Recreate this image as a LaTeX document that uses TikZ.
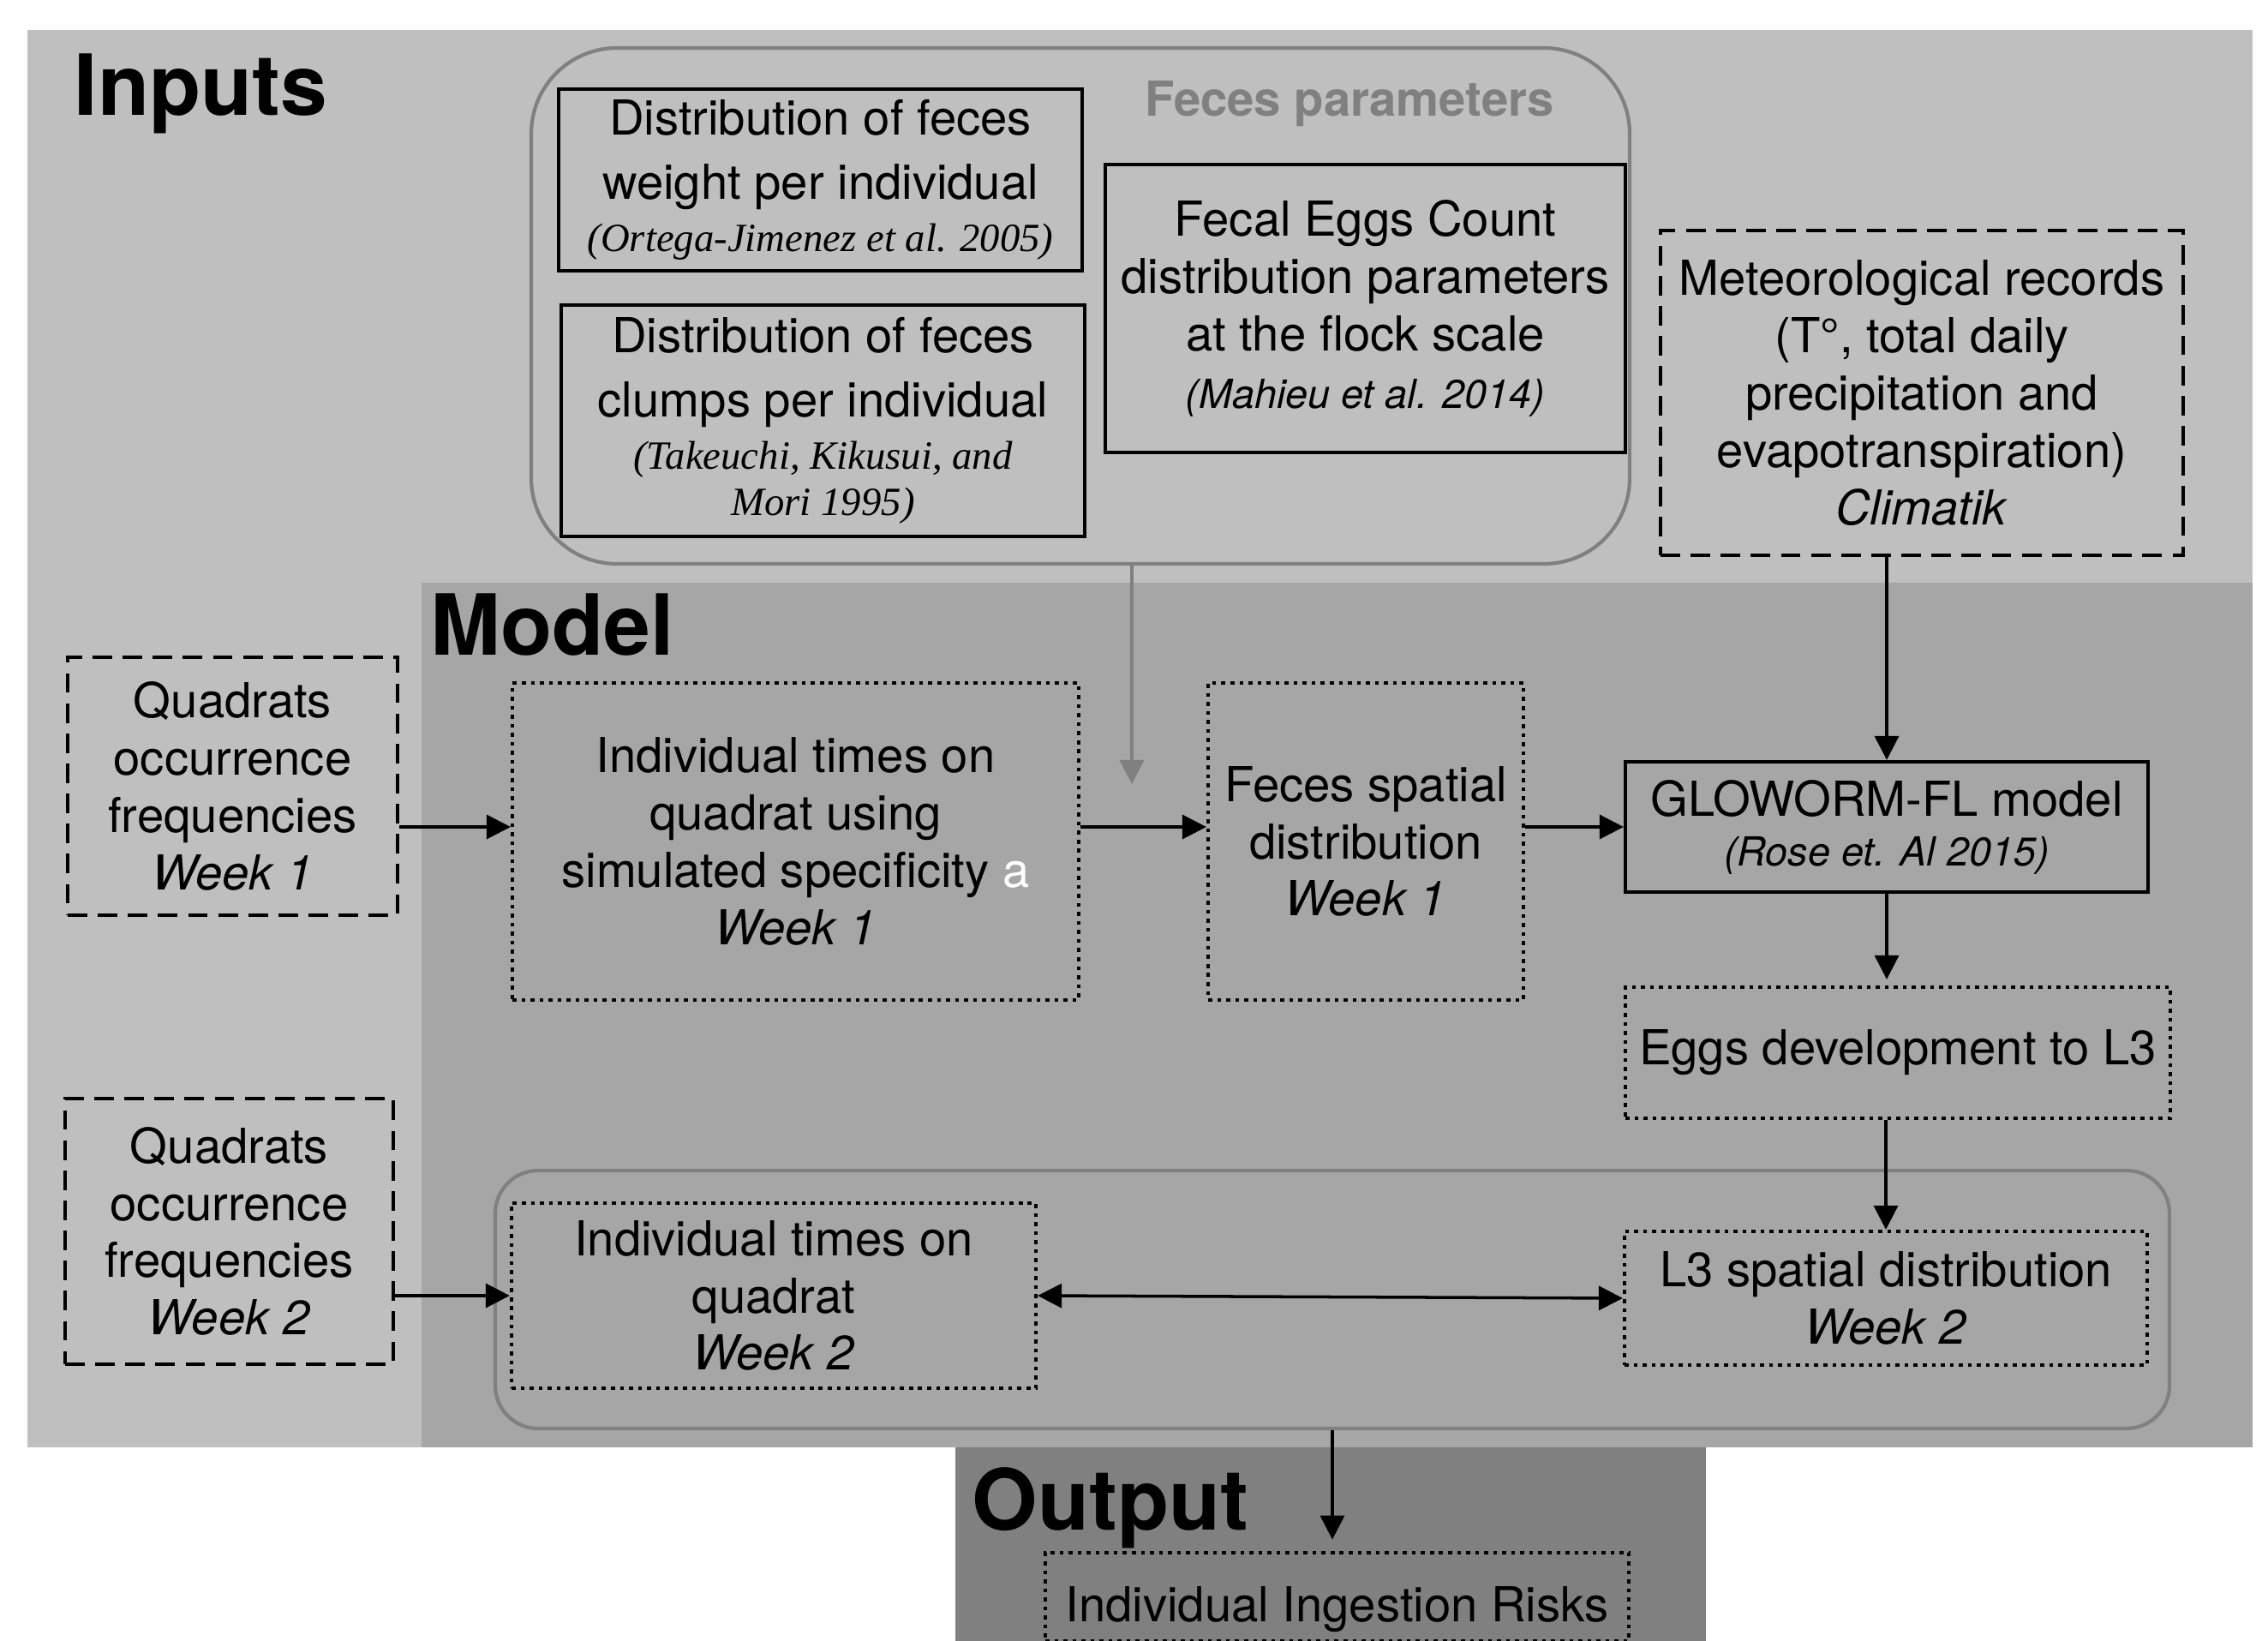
\documentclass[tikz,border=0pt]{standalone}
\usepackage{fontspec}
\setmainfont{TeX Gyre Heros}
\newfontfamily\citeserif{Liberation Serif}
\usetikzlibrary{arrows.meta, positioning}
\def\boxfont{\fontsize{16}{19}\selectfont}
\def\citefont{\fontsize{13.3}{15.5}\selectfont}
\def\headfont{\fontsize{28}{32}\selectfont\bfseries}

\begin{document}
\begin{tikzpicture}[>={Triangle[length=0.28cm,width=0.28cm]}]
    \tikzstyle{solidbox}=[draw=black, line width=1.2pt, align=center, inner sep=2pt, font=\boxfont]
    \tikzstyle{dashbox}=[solidbox, dash pattern=on 6.5pt off 3.5pt]
    \tikzstyle{dotbox}=[solidbox, dash pattern=on 1.3pt off 1.7pt]
    \tikzstyle{group}=[draw=black!50, line width=1.2pt]
    \tikzstyle{heading}=[font=\headfont, anchor=base west, inner sep=0pt]
    \tikzstyle{link}=[->, line width=1pt]

    \useasboundingbox (0,0) rectangle (26.47,-19.15);

    % Draw the three background areas
    \fill[black!25] (0.32,-0.35) rectangle (26.29,-16.89);
    \fill[black!35] (4.92,-6.80) rectangle (26.29,-16.89);
    \fill[black!50] (11.15,-16.89) rectangle (19.91,-19.15);

    \node[heading] (inputs) at (0.86,-1.35) {Inputs};
    \node[heading] (model) at (5.02,-7.65) {Model};
    \node[heading] (output) at (11.34,-17.85) {Output};

    % Groups
    \node[group, rounded corners=1cm, minimum width=12.82cm, minimum height=6.02cm] (fecespar) at (12.61,-3.57) {};
    \node[font=\boxfont\bfseries, text=black!50, anchor=base, inner sep=0pt] (fecespar-title) at (15.75,-1.36) {Feces parameters};
    \node[group, rounded corners=0.5cm, minimum width=19.54cm, minimum height=3.01cm] (week2) at (15.55,-15.165) {};

    % Draw the input nodes
    \node[solidbox, minimum width=6.11cm, minimum height=2.12cm] (in-weight) at (9.575,-2.10)
        {Distribution of feces\\[2.3pt] weight per individual\\[-1.5pt] {\citeserif\citefont\itshape (Ortega-Jimenez et al. 2005)}};
    \node[solidbox, minimum width=6.11cm, minimum height=2.70cm] (in-clumps) at (9.605,-4.91)
        {Distribution of feces\\[2.3pt] clumps per individual\\[-1.8pt] {\citeserif\citefont\itshape (Takeuchi, Kikusui, and}\\[-3.5pt] {\citeserif\citefont\itshape Mori 1995)}};
    \node[solidbox, minimum width=6.07cm, minimum height=3.36cm] (in-fec) at (15.935,-3.60)
        {Fecal Eggs Count\\ distribution parameters\\ at the flock scale\\ {\citefont\itshape (Mahieu et al. 2014)}};
    \node[dashbox, minimum width=6.10cm, minimum height=3.79cm] (in-meteo) at (22.43,-4.585)
        {Meteorological records\\ (T°, total daily\\ precipitation and\\ evapotranspiration)\\ \textit{Climatik}};
    \node[dashbox, minimum width=3.85cm, minimum height=3.01cm] (in-quad1) at (2.715,-9.175)
        {Quadrats\\ occurrence\\ frequencies\\ \textit{Week 1}};
    \node[dashbox, minimum width=3.83cm, minimum height=3.10cm] (in-quad2) at (2.675,-14.37)
        {Quadrats\\ occurrence\\ frequencies\\ \textit{Week 2}};

    % Draw the model nodes
    \node[dotbox, minimum width=6.61cm, minimum height=3.70cm] (m-ind1) at (9.285,-9.82)
        {Individual times on\\ quadrat using\\ simulated specificity {\color{white}a}\\ \textit{Week 1}};
    \node[dotbox, minimum width=3.68cm, minimum height=3.70cm] (m-feces) at (15.94,-9.82)
        {Feces spatial\\ distribution\\ \textit{Week 1}};
    \node[solidbox, minimum width=6.10cm, minimum height=1.52cm] (m-glow) at (22.02,-9.65)
        {GLOWORM-FL model\\[-2.5pt] {\citefont\itshape (Rose et. Al 2015)}};
    \node[dotbox, minimum width=6.36cm, minimum height=1.53cm] (m-eggs) at (22.15,-12.285)
        {Eggs development to L3};
    \node[dotbox, minimum width=6.12cm, minimum height=2.16cm] (m-ind2) at (9.03,-15.12)
        {Individual times on\\ quadrat\\ \textit{Week 2}};
    \node[dotbox, minimum width=6.10cm, minimum height=1.56cm] (m-l3) at (22.01,-15.15)
        {L3 spatial distribution\\ \textit{Week 2}};

    % Draw the output node
    \node[dotbox, minimum width=6.81cm, minimum height=0.93cm, text height=21pt, text depth=4.5pt] (out-risk) at (15.605,-18.635)
        {Individual Ingestion Risks};

    % Connect the nodes
    \coordinate (feces-in) at (13.21,-9.15);
    \draw[link, draw=black!50] (fecespar.south -| feces-in) -- (feces-in);
    \draw[link] (in-quad1.east |- m-glow) -- (m-ind1.west |- m-glow);
    \draw[link] (m-ind1.east |- m-glow) -- (m-feces.west |- m-glow);
    \draw[link] (m-feces.east |- m-glow) -- (m-glow.west);
    \draw[link] (m-glow.north |- in-meteo.south) -- (m-glow.north);
    \draw[link] (m-glow.south) -- ([yshift=0.07cm]m-glow.south |- m-eggs.north);
    \draw[link] (m-eggs.south -| m-l3.north) -- (m-l3.north);
    \draw[link] (in-quad2.east |- m-ind2.west) -- (m-ind2.west);
    \draw[<->, line width=1pt] (m-ind2.east) -- (m-l3.west);
    \draw[link, shorten >=0.13cm] (week2.south) -- (week2.south |- out-risk.north);
\end{tikzpicture}
\end{document}
